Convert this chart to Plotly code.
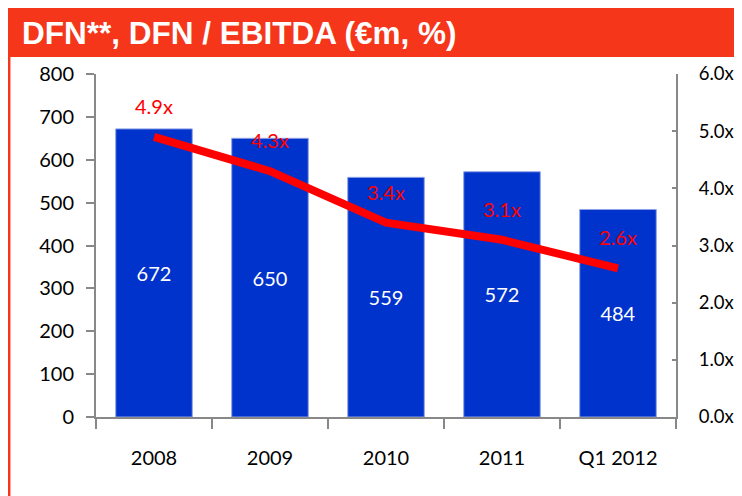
import plotly.graph_objects as go

categories = ["2008", "2009", "2010", "2011", "Q1 2012"]
dfn = [672, 650, 559, 572, 484]
ratio = [4.9, 4.3, 3.4, 3.1, 2.6]
ratio_labels = ["4.9x", "4.3x", "3.4x", "3.1x", "2.6x"]
left_ticks = [0, 100, 200, 300, 400, 500, 600, 700, 800]
right_ticks = [0, 1, 2, 3, 4, 5, 6]
right_tick_text = ["0.0x", "1.0x", "2.0x", "3.0x", "4.0x", "5.0x", "6.0x"]

# page body has an 8px margin, so the figure is drawn 8px in from the top-left
W, H = 734, 488
L, R, T, B = 88, 66, 66, 79
pw, ph = W - L - R, H - T - B

def px(x):
    return (x - L) / pw

def py(y):
    return (H - B - y) / ph

FONT = "Lato"
RED = "#F5361A"

fig = go.Figure()
fig.add_trace(go.Bar(
    x=categories, y=dfn, marker=dict(color="#0033CC", line=dict(color="#8FA3E8", width=1)),
    text=[str(v) for v in dfn], textposition="inside", insidetextanchor="middle",
    textfont=dict(color="white", size=20, family=FONT), width=0.66, yaxis="y",
))
fig.add_trace(go.Scatter(
    x=categories, y=ratio, mode="lines", line=dict(color="#FF0000", width=8),
    yaxis="y2",
))
for i, (r, t) in enumerate(zip(ratio, ratio_labels)):
    fig.add_annotation(x=i, y=r, xref="x", yref="y2", text=t, showarrow=False, yshift=31,
                       font=dict(color="#FF0000", size=20, family=FONT))

# title bar
fig.add_shape(type="rect", xref="paper", yref="paper", x0=px(0), x1=px(740), y0=py(49), y1=py(-5),
              fillcolor=RED, line=dict(width=0), layer="above")
fig.add_shape(type="line", xref="paper", yref="paper", x0=px(1.2), x1=px(1.2), y0=py(49), y1=py(495),
              line=dict(color=RED, width=2.5))
fig.add_annotation(xref="paper", yref="paper", x=px(12), y=py(25), xanchor="left", yanchor="middle",
                   text="<b>DFN**, DFN / EBITDA (€m, %)</b>", showarrow=False,
                   font=dict(color="white", size=31.5, family="Liberation Sans"))

fig.update_layout(
    width=W, height=H, margin=dict(l=L, r=R, t=T, b=B, autoexpand=False),
    paper_bgcolor="white", plot_bgcolor="white", showlegend=False,
    font=dict(family=FONT, size=20, color="black"),
    xaxis=dict(type="category", categoryorder="array", categoryarray=categories,
               range=[-0.5, len(categories) - 0.5], tickangle=0, automargin=False,
               showline=True, linecolor="#888888", linewidth=2,
               ticks="outside", tickson="boundaries", ticklen=10, tickcolor="#888888", tickwidth=2,
               showgrid=False, tickfont=dict(size=20), ticklabelstandoff=22),
    yaxis=dict(range=[0, 800], tickvals=left_ticks, showline=True, linecolor="#888888", linewidth=2,
               ticks="outside", ticklen=8, tickcolor="#888888", tickwidth=2, showgrid=False,
               automargin=False, zeroline=False, tickfont=dict(size=20), ticklabelstandoff=8),
    yaxis2=dict(range=[0, 6], tickvals=right_ticks, ticktext=right_tick_text, overlaying="y", side="right",
                showline=True, linecolor="#888888", linewidth=2, ticks="inside", ticklen=4,
                tickcolor="#888888", tickwidth=2, showgrid=False, zeroline=False, automargin=False,
                tickfont=dict(size=18.5), ticklabelstandoff=17),
)

fig.write_html("out.html")
